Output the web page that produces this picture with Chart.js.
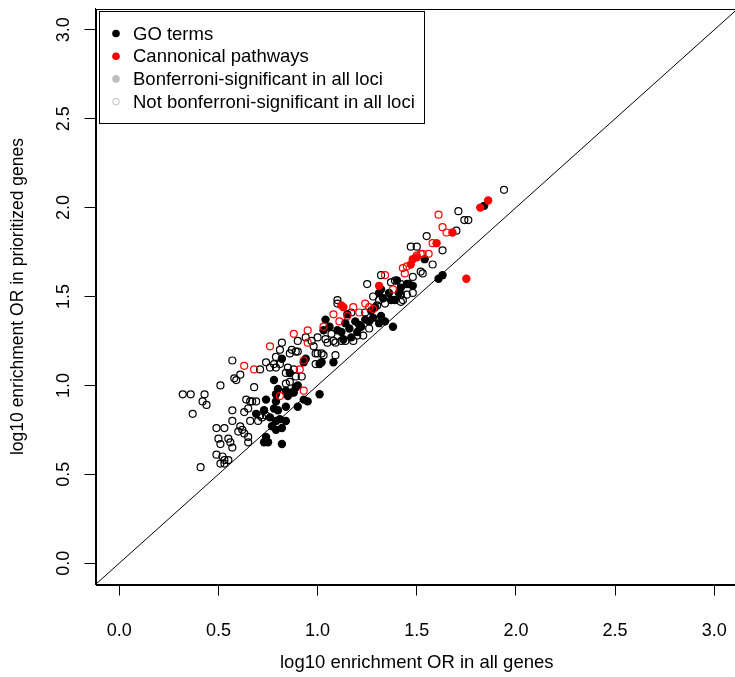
<!DOCTYPE html>
<html>
<head>
<meta charset="utf-8">
<script src="https://cdn.jsdelivr.net/npm/chart.js@4.4.1/dist/chart.umd.min.js"></script>
<style>
  html, body { margin: 0; padding: 0; background: #fff; overflow: hidden; }
  #wrap { width: 745px; height: 677px; }
  #orPlot { display: block; }
</style>
</head>
<body>
<div id="wrap"><canvas id="orPlot" width="745" height="677"></canvas></div>
<script>
// log10 OR pairs [all genes, prioritized genes]
const goSignificant = [
  [0.69,0.84],[0.73,0.86],[0.74,0.92],[0.79,0.91],[0.78,0.87],[0.80,0.86],[0.76,0.82],[0.79,0.80],
  [0.81,0.81],[0.84,0.88],[0.77,0.77],[0.79,0.75],[0.82,0.76],[0.74,0.71],[0.75,0.68],[0.73,0.68],
  [0.82,0.67],[0.80,0.98],[0.84,0.97],[0.79,0.95],[0.78,1.03],[0.82,1.15],[0.88,0.96],[0.89,0.99],
  [0.90,1.00],[0.90,0.88],[0.93,0.92],[0.95,0.91],[1.01,0.95],[1.02,1.13],[1.08,1.13],[0.93,1.13],
  [0.86,1.07],[0.87,0.96],[0.85,0.94],[0.84,0.80],[1.01,1.12],[0.94,1.15],[1.04,1.37],[1.03,1.31],
  [1.10,1.31],[1.14,1.35],[1.16,1.32],[1.19,1.36],[1.17,1.27],[1.13,1.26],[1.20,1.30],[1.22,1.33],
  [1.28,1.38],[1.27,1.42],[1.32,1.39],[1.34,1.36],[1.39,1.48],[1.41,1.52],[1.36,1.52],[1.32,1.54],
  [1.38,1.33],[1.40,1.59],[1.42,1.55],[1.45,1.57],[1.48,1.56],[1.31,1.52],[1.33,1.49],[1.37,1.48],
  [1.21,1.34],[1.26,1.36],[1.31,1.35],[1.61,1.60],[1.63,1.62],[1.54,1.71],[1.46,1.57],[1.06,1.33],
  [1.12,1.30],[1.24,1.37],[1.15,1.40],[1.29,1.44],[1.84,2.01]
];
const goNotSignificant = [
  [0.32,0.95],[0.36,0.95],[0.43,0.95],[0.42,0.91],[0.44,0.89],[0.37,0.84],[0.51,1.00],[0.68,0.99],
  [0.57,0.86],[0.57,0.80],[0.63,0.85],[0.65,0.87],[0.66,0.91],[0.69,0.91],[0.66,0.80],[0.70,0.80],
  [0.72,0.82],[0.74,0.83],[0.49,0.76],[0.53,0.76],[0.61,0.77],[0.62,0.75],[0.60,0.74],[0.63,0.73],
  [0.50,0.70],[0.55,0.70],[0.56,0.68],[0.51,0.67],[0.65,0.71],[0.65,0.68],[0.57,0.65],[0.49,0.61],
  [0.52,0.60],[0.53,0.58],[0.55,0.58],[0.51,0.56],[0.53,0.56],[0.41,0.54],[0.59,1.03],[0.57,1.14],
  [0.58,1.04],[0.61,1.06],[0.71,1.09],[0.74,1.13],[0.78,1.12],[0.81,1.12],[0.64,0.92],[0.67,0.91],
  [0.71,0.83],[0.79,1.16],[0.81,1.20],[0.82,1.24],[0.76,1.10],[0.79,1.10],[0.86,1.18],[0.89,1.19],
  [0.98,1.22],[1.00,1.18],[1.03,1.17],[1.05,1.24],[1.08,1.25],[1.12,1.25],[1.18,1.25],[1.20,1.28],
  [0.84,1.07],[0.87,1.20],[0.90,1.19],[0.99,1.18],[1.02,1.18],[1.09,1.17],[1.09,1.24],[1.14,1.25],
  [0.99,1.12],[0.85,1.10],[0.88,1.09],[0.89,1.05],[0.92,1.05],[0.84,1.01],[0.86,1.02],[1.25,1.57],
  [1.32,1.62],[1.37,1.58],[1.39,1.59],[1.42,1.57],[1.10,1.48],[1.10,1.46],[1.28,1.50],[1.31,1.48],
  [1.34,1.46],[1.42,1.51],[1.42,1.47],[1.07,1.29],[1.04,1.26],[1.00,1.27],[0.97,1.25],[0.94,1.27],
  [0.90,1.25],[1.23,1.28],[1.26,1.32],[1.17,1.41],[1.24,1.41],[1.30,1.45],[1.94,2.10],[1.71,1.98],
  [1.74,1.93],[1.76,1.93],[1.70,1.87],[1.55,1.84],[1.47,1.78],[1.50,1.78],[1.63,1.76],[1.58,1.68],
  [1.52,1.64],[1.48,1.61],[1.45,1.51],[1.48,1.52],[1.43,1.48],[1.53,1.63]
];
const pathwaySignificant = [
  [1.86,2.04],[1.82,2.00],[1.68,1.86],[1.60,1.80],[1.48,1.71],[1.47,1.68],[1.75,1.60],[1.31,1.56],
  [1.12,1.45],[1.13,1.44],[1.50,1.72]
];
const pathwayNotSignificant = [
  [1.61,1.96],[1.63,1.89],[1.65,1.86],[1.58,1.80],[1.52,1.74],[1.50,1.73],[1.56,1.74],[1.53,1.74],
  [1.45,1.67],[1.43,1.66],[1.34,1.62],[1.38,1.54],[1.18,1.44],[1.21,1.41],[1.24,1.46],[1.26,1.44],
  [1.28,1.43],[1.08,1.40],[1.15,1.39],[1.11,1.36],[1.03,1.33],[0.95,1.31],[0.88,1.29],[0.76,1.22],
  [0.95,1.24],[0.63,1.11],[0.68,1.09],[0.93,1.14],[0.91,1.09],[0.93,0.97],[0.81,0.94],[1.44,1.63]
];

const axisLimits = [-0.12, 3.12];
const tickValues = [0, 0.5, 1, 1.5, 2, 2.5, 3];

const legendLabels = [
  "GO terms",
  "Cannonical pathways",
  "Bonferroni-significant in all loci",
  "Not bonferroni-significant in all loci"
];

const FONT = '"Liberation Sans", Arial, Helvetica, sans-serif';
const RED = "#ff0000";
const GREY = "#bebebe";

const toXY = pts => pts.map(p => ({ x: p[0], y: p[1] }));

// box around the plot region, like R's box()
const frame = {
  id: "frame",
  afterDatasetsDraw(chart) {
    const { ctx, chartArea: a } = chart;
    ctx.save();
    ctx.strokeStyle = "#000";
    ctx.lineWidth = 1;
    ctx.strokeRect(Math.round(a.left) + 0.5, Math.round(a.top) + 0.5,
                   Math.round(a.right - a.left), Math.round(a.bottom - a.top));
    ctx.restore();
  }
};

// vertical y tick labels (read bottom to top)
const yLabels = {
  id: "yLabels",
  afterDraw(chart) {
    const { ctx } = chart;
    const ys = chart.scales.y;
    ctx.save();
    ctx.font = "18px " + FONT;
    ctx.fillStyle = "#000";
    ctx.textAlign = "center";
    ctx.textBaseline = "middle";
    ys.ticks.forEach(t => {
      ctx.save();
      ctx.translate(64, ys.getPixelForValue(t.value));
      ctx.rotate(-Math.PI / 2);
      ctx.fillText(t.value.toFixed(1), 0, 0);
      ctx.restore();
    });
    ctx.restore();
  }
};

// legend box in the top-left corner
const cornerLegend = {
  id: "cornerLegend",
  afterDraw(chart) {
    const { ctx, chartArea: a } = chart;
    const x0 = Math.round(a.left + 3.5), y0 = Math.round(a.top + 2.5);
    ctx.save();
    ctx.fillStyle = "#fff";
    ctx.fillRect(x0, y0, 325, 112);
    ctx.strokeStyle = "#000";
    ctx.lineWidth = 1;
    ctx.strokeRect(x0 + 0.5, y0 + 0.5, 325, 112);
    const marks = [
      { fill: "#000", stroke: "#000" },
      { fill: RED, stroke: RED },
      { fill: GREY, stroke: GREY },
      { fill: null, stroke: GREY }
    ];
    ctx.font = "18.5px " + FONT;
    ctx.textBaseline = "middle";
    legendLabels.forEach((txt, i) => {
      const cy = y0 + 22.5 + i * 22.7;
      const m = marks[i];
      ctx.beginPath();
      ctx.arc(x0 + 17, cy, m.fill ? 3.8 : 3.3, 0, Math.PI * 2);
      if (m.fill) { ctx.fillStyle = m.fill; ctx.fill(); }
      else { ctx.strokeStyle = m.stroke; ctx.lineWidth = 1; ctx.stroke(); }
      ctx.fillStyle = "#000";
      ctx.fillText(txt, x0 + 34, cy + 1);
    });
    ctx.restore();
  }
};

new Chart(document.getElementById("orPlot"), {
  type: "scatter",
  data: {
    datasets: [
      {
        type: "line",
        label: "y = x",
        data: axisLimits.map(v => ({ x: v, y: v })),
        borderColor: "#000",
        borderWidth: 1,
        pointRadius: 0,
        order: 0
      },
      {
        label: "pathways, significant",
        data: toXY(pathwaySignificant),
        backgroundColor: RED,
        borderColor: RED,
        borderWidth: 0,
        pointRadius: 4.2,
        order: 1
      },
      {
        label: "pathways, not significant",
        data: toXY(pathwayNotSignificant),
        backgroundColor: "rgba(0,0,0,0)",
        borderColor: RED,
        borderWidth: 1.2,
        pointRadius: 3.5,
        order: 2
      },
      {
        label: "GO, significant",
        data: toXY(goSignificant),
        backgroundColor: "#000",
        borderColor: "#000",
        borderWidth: 0,
        pointRadius: 4.2,
        order: 3
      },
      {
        label: "GO, not significant",
        data: toXY(goNotSignificant),
        backgroundColor: "rgba(0,0,0,0)",
        borderColor: "#000",
        borderWidth: 1.2,
        pointRadius: 3.5,
        order: 4
      }
    ]
  },
  options: {
    responsive: false,
    devicePixelRatio: 1,
    animation: false,
    events: [],
    layout: { padding: { top: 8.5, right: 7, left: 0, bottom: 0 } },
    plugins: { legend: { display: false }, tooltip: { enabled: false } },
    scales: {
      x: {
        type: "linear",
        min: axisLimits[0],
        max: axisLimits[1],
        afterFit: s => { s.height = 92.5; s.paddingLeft = 0; s.paddingRight = 0; },
        afterBuildTicks: s => { s.ticks = tickValues.map(v => ({ value: v })); },
        ticks: {
          padding: 25,
          color: "#000",
          font: { family: FONT, size: 18 },
          callback: v => Number(v).toFixed(1)
        },
        grid: { drawOnChartArea: false, drawTicks: true, tickLength: 11, color: "#000" },
        border: { display: true, color: "#000" },
        title: {
          display: true,
          text: "log10 enrichment OR in all genes",
          color: "#000",
          font: { family: FONT, size: 18.5 },
          padding: { top: 0, bottom: 3 }
        }
      },
      y: {
        type: "linear",
        min: axisLimits[0],
        max: axisLimits[1],
        afterFit: s => { s.width = 95.5; s.paddingTop = 0; s.paddingBottom = 0; },
        afterBuildTicks: s => { s.ticks = tickValues.map(v => ({ value: v })); },
        ticks: { display: false },
        grid: { drawOnChartArea: false, drawTicks: true, tickLength: 11, color: "#000" },
        border: { display: true, color: "#000" },
        title: {
          display: true,
          text: "log10 enrichment OR in prioritized genes",
          color: "#000",
          font: { family: FONT, size: 17.5 },
          padding: { top: 7.5, bottom: 0 }
        }
      }
    }
  },
  plugins: [frame, yLabels, cornerLegend]
});
</script>
</body>
</html>
